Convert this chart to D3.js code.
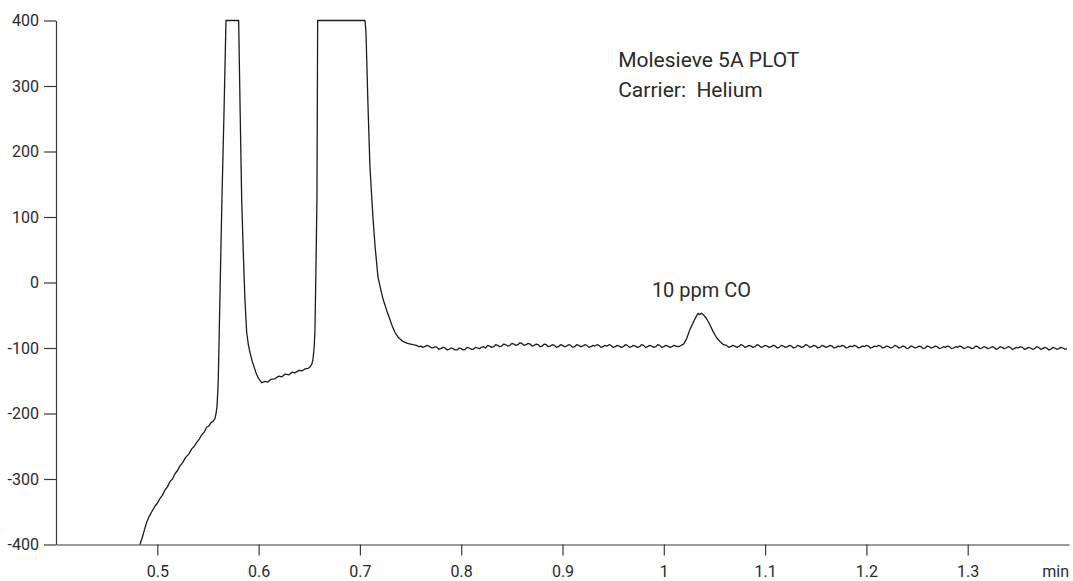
<!DOCTYPE html>
<html>
<head>
<meta charset="utf-8">
<script src="https://cdn.jsdelivr.net/npm/d3@7"></script>
<style>
  body { margin: 0; background: #fff; }
  .tick text { font-family: Roboto, "Liberation Sans", sans-serif; font-size: 16px; fill: #2a2a2a; }
  .note { font-family: Roboto, "Liberation Sans", sans-serif; fill: #2a2a2a; white-space: pre; }
</style>
</head>
<body>
<div id="chart"></div>
<script>
// chromatogram trace: [time (min), signal]
var trace = [
  [0.4829,-400],[0.4850,-390],[0.4872,-378],[0.4895,-366],[0.4920,-357],[0.4945,-350],[0.4975,-342],[0.5000,-337],
  [0.5026,-330],[0.5050,-325],[0.5075,-317],[0.5100,-312],[0.5125,-304],[0.5150,-300],[0.5175,-292],[0.5200,-287],
  [0.5224,-280],[0.5250,-275],[0.5280,-267],[0.5310,-262],[0.5340,-254],[0.5365,-250],[0.5389,-244],[0.5415,-239],
  [0.5440,-232],[0.5465,-228],[0.5487,-221],[0.5510,-219],[0.5530,-214],[0.5550,-212],[0.5569,-208],[0.5580,-200],
  [0.5589,-190],[0.5596,-170],[0.5602,-148],[0.5620,-10],[0.5638,127],[0.5660,270],[0.5678,400],
  [0.5803,400],
  [0.5818,260],[0.5833,127],[0.5850,40],[0.5865,-26],[0.5882,-76],[0.5900,-96],[0.5915,-107],[0.5935,-119],
  [0.5954,-128],[0.5975,-138],[0.5994,-145],[0.6015,-150],[0.6033,-153],[0.6060,-151],[0.6092,-152],[0.6120,-148],
  [0.6161,-147],[0.6200,-143],[0.6230,-144],[0.6260,-140],[0.6300,-141],[0.6330,-137],[0.6359,-138],[0.6400,-134],
  [0.6430,-135],[0.6457,-132],[0.6490,-131],[0.6507,-129],[0.6525,-125],[0.6536,-118],[0.6548,-100],[0.6556,-76],
  [0.6566,20],[0.6576,127],[0.6583,400],
  [0.7050,400],
  [0.7060,382],[0.7080,270],[0.7099,177],[0.7115,135],[0.7128,101],[0.7150,55],[0.7178,9],[0.7205,-10],
  [0.7230,-26],[0.7265,-43],[0.7296,-56],[0.7320,-67],[0.7346,-76],[0.7380,-84],[0.7424,-90],[0.7470,-93],
  [0.7523,-95],
  [0.756,-96],[0.758,-98],[0.760,-97],[0.762,-99],[0.764,-98],[0.766,-96],[0.768,-97],[0.770,-99],[0.772,-100],[0.774,-98],[0.776,-99],[0.778,-102],[0.780,-101],[0.782,-99],[0.784,-100],
  [0.786,-103],[0.788,-102],[0.790,-100],[0.792,-101],[0.794,-103],[0.796,-103],[0.798,-100],[0.800,-101],[0.802,-103],[0.804,-102],[0.806,-99],[0.808,-100],[0.810,-102],[0.812,-102],[0.814,-99],[0.816,-100],
  [0.818,-101],[0.820,-99],[0.822,-98],[0.824,-100],[0.826,-96],[0.828,-97],[0.830,-99],[0.832,-98],[0.834,-95],[0.836,-96],[0.838,-98],[0.840,-97],[0.842,-94],[0.844,-95],[0.846,-97],[0.848,-96],
  [0.850,-93],[0.852,-94],[0.854,-96],[0.856,-95],[0.858,-92],[0.860,-93],[0.862,-96],[0.864,-95],[0.866,-93],[0.868,-94],[0.870,-97],[0.872,-96],[0.874,-94],[0.876,-95],[0.878,-98],[0.880,-97],
  [0.882,-94],[0.884,-95],[0.886,-98],[0.888,-97],[0.890,-95],[0.892,-96],[0.894,-99],[0.896,-98],[0.898,-95],[0.900,-96],[0.902,-98],[0.904,-97],[0.906,-95],[0.908,-96],[0.910,-99],[0.912,-98],
  [0.914,-95],[0.916,-96],[0.918,-98],[0.920,-97],[0.922,-95],[0.924,-96],[0.926,-99],[0.928,-98],[0.930,-96],[0.932,-97],[0.934,-95],[0.936,-96],[0.938,-99],[0.940,-98],[0.942,-96],[0.944,-97],
  [0.946,-95],[0.948,-96],[0.950,-99],[0.952,-98],[0.954,-96],[0.956,-97],[0.958,-99],[0.960,-98],[0.962,-95],[0.964,-96],[0.966,-99],[0.968,-98],[0.970,-96],[0.972,-97],[0.974,-99],[0.976,-98],
  [0.978,-95],[0.980,-96],[0.982,-99],[0.984,-98],[0.986,-96],[0.988,-97],[0.990,-99],[0.992,-98],[0.994,-95],[0.996,-96],[0.998,-99],[1.000,-98],[1.002,-96],[1.004,-97],[1.006,-99],[1.008,-98],
  [1.010,-96],[1.012,-97],[1.014,-98],[1.016,-97],
  [1.0195,-94],[1.0225,-86],[1.0257,-72],[1.0290,-61],[1.0323,-51],[1.0340,-47],[1.0350,-49],[1.0372,-47],[1.0395,-50],
  [1.0421,-55],[1.0450,-63],[1.0487,-75],[1.0520,-84],[1.0553,-90],[1.0590,-95],[1.0619,-96],
  [1.064,-99],[1.066,-98],[1.068,-96],[1.070,-97],[1.072,-99],[1.074,-98],[1.076,-95],[1.078,-96],[1.080,-99],[1.082,-98],[1.084,-96],[1.086,-97],[1.088,-99],[1.090,-98],[1.092,-95],[1.094,-96],
  [1.096,-99],[1.098,-98],[1.100,-96],[1.102,-97],[1.104,-99],[1.106,-98],[1.108,-96],[1.110,-97],[1.112,-100],[1.114,-99],[1.116,-96],[1.118,-97],[1.120,-99],[1.122,-98],[1.124,-96],[1.126,-97],
  [1.128,-100],[1.130,-99],[1.132,-96],[1.134,-97],[1.136,-99],[1.138,-98],[1.140,-95],[1.142,-96],[1.144,-99],[1.146,-98],[1.148,-96],[1.150,-97],[1.152,-100],[1.154,-99],[1.156,-96],[1.158,-97],
  [1.160,-99],[1.162,-98],[1.164,-96],[1.166,-97],[1.168,-100],[1.170,-99],[1.172,-97],[1.174,-98],[1.176,-96],[1.178,-97],[1.180,-100],[1.182,-99],[1.184,-97],[1.186,-98],[1.188,-96],[1.190,-97],
  [1.192,-100],[1.194,-99],[1.196,-97],[1.198,-98],[1.200,-96],[1.202,-97],[1.204,-100],[1.206,-99],[1.208,-97],[1.210,-98],[1.212,-96],[1.214,-97],[1.216,-100],[1.218,-99],[1.220,-97],[1.222,-98],
  [1.224,-100],[1.226,-99],[1.228,-96],[1.230,-97],[1.232,-100],[1.234,-99],[1.236,-97],[1.238,-98],[1.240,-101],[1.242,-100],[1.244,-97],[1.246,-98],[1.248,-100],[1.250,-99],[1.252,-97],[1.254,-98],
  [1.256,-101],[1.258,-100],[1.260,-97],[1.262,-98],[1.264,-100],[1.266,-99],[1.268,-97],[1.270,-98],[1.272,-101],[1.274,-100],[1.276,-98],[1.278,-99],[1.280,-97],[1.282,-98],[1.284,-101],[1.286,-100],
  [1.288,-98],[1.290,-99],[1.292,-97],[1.294,-98],[1.296,-101],[1.298,-100],[1.300,-98],[1.302,-99],[1.304,-101],[1.306,-100],[1.308,-97],[1.310,-98],[1.312,-101],[1.314,-100],[1.316,-98],[1.318,-99],
  [1.320,-101],[1.322,-100],[1.324,-98],[1.326,-99],[1.328,-102],[1.330,-101],[1.332,-98],[1.334,-99],[1.336,-101],[1.338,-100],[1.340,-98],[1.342,-99],[1.344,-102],[1.346,-101],[1.348,-99],[1.350,-100],
  [1.352,-98],[1.354,-99],[1.356,-102],[1.358,-101],[1.360,-99],[1.362,-100],[1.364,-102],[1.366,-101],[1.368,-98],[1.370,-99],[1.372,-102],[1.374,-101],[1.376,-99],[1.378,-100],[1.380,-103],[1.382,-102],
  [1.384,-99],[1.386,-100],[1.388,-102],[1.390,-101],[1.392,-99],[1.394,-100],[1.396,-102],[1.398,-101]
];

var xTicks = [0.5, 0.6, 0.7, 0.8, 0.9, 1, 1.1, 1.2, 1.3];
var yTicks = [-400, -300, -200, -100, 0, 100, 200, 300, 400];
var xUnit = "min";
var notes = ["Molesieve 5A PLOT", "Carrier:  Helium"];
var peakLabel = "10 ppm CO";

var w = 1073, h = 581;

var svg = d3.select("#chart")
  .append("svg")
  .attr("width", w)
  .attr("height", h);

var x = d3.scaleLinear().domain([0.4, 1.4]).range([56, 1069]);
var y = d3.scaleLinear().domain([-400, 400]).range([544.5, 20.5]);

// minor ticks every 0.02 min / 20 units
var xMinor = d3.range(21, 70).map(function(i) { return i / 50; })
  .filter(function(v) { return Math.abs(v * 10 - Math.round(v * 10)) > 1e-6; });
var yMinor = d3.range(-20, 21).map(function(i) { return i * 20; })
  .filter(function(v) { return v % 100 !== 0; });

var axisColor = "#3a3a3a";
// plain hyphen for negatives, like the original print
var fmtY = function(d) { return String(d); };
var fmtX = function(d) { return String(+d.toFixed(2)); };

var gx = svg.append("g").attr("transform", "translate(0," + y(-400) + ")");
gx.call(d3.axisBottom(x).tickValues(xMinor).tickSize(7).tickSizeOuter(0).tickFormat(""));
gx.call(d3.axisBottom(x).tickValues(xTicks).tickSize(11).tickSizeOuter(0).tickPadding(10).tickFormat(fmtX));

var gy = svg.append("g").attr("transform", "translate(" + x(0.4) + ",0)");
gy.call(d3.axisLeft(y).tickValues(yMinor).tickSize(7).tickSizeOuter(0).tickFormat(""));
gy.call(d3.axisLeft(y).tickValues(yTicks).tickSize(12).tickSizeOuter(0).tickPadding(5).tickFormat(fmtY));

svg.selectAll(".domain, .tick line").attr("stroke", axisColor).attr("stroke-width", 1.2);

// unit label at right end of x axis
gx.append("g").attr("class", "tick")
  .append("text")
  .attr("x", x(1.4))
  .attr("y", 21)
  .attr("dy", "0.71em")
  .attr("text-anchor", "end")
  .text(xUnit);

var line = d3.line()
  .x(function(d) { return x(d[0]); })
  .y(function(d) { return y(d[1]); });

svg.append("path")
  .datum(trace)
  .attr("fill", "none")
  .attr("stroke", "#1c1c1c")
  .attr("stroke-width", 1.3)
  .attr("stroke-linejoin", "round")
  .attr("d", line);

// annotations
svg.selectAll("text.note-line")
  .data(notes)
  .enter()
  .append("text")
  .attr("class", "note note-line")
  .attr("x", x(0.955))
  .attr("y", function(d, i) { return 66.5 + i * 30; })
  .attr("font-size", 21)
  .text(function(d) { return d; });

var peak = trace.filter(function(d) { return d[0] > 1 && d[0] < 1.1; })
  .reduce(function(a, b) { return b[1] > a[1] ? b : a; });

svg.append("text")
  .attr("class", "note")
  .attr("x", x(1.0372))
  .attr("y", 296.5)
  .attr("text-anchor", "middle")
  .attr("font-size", 20)
  .text(peakLabel);
</script>
</body>
</html>
